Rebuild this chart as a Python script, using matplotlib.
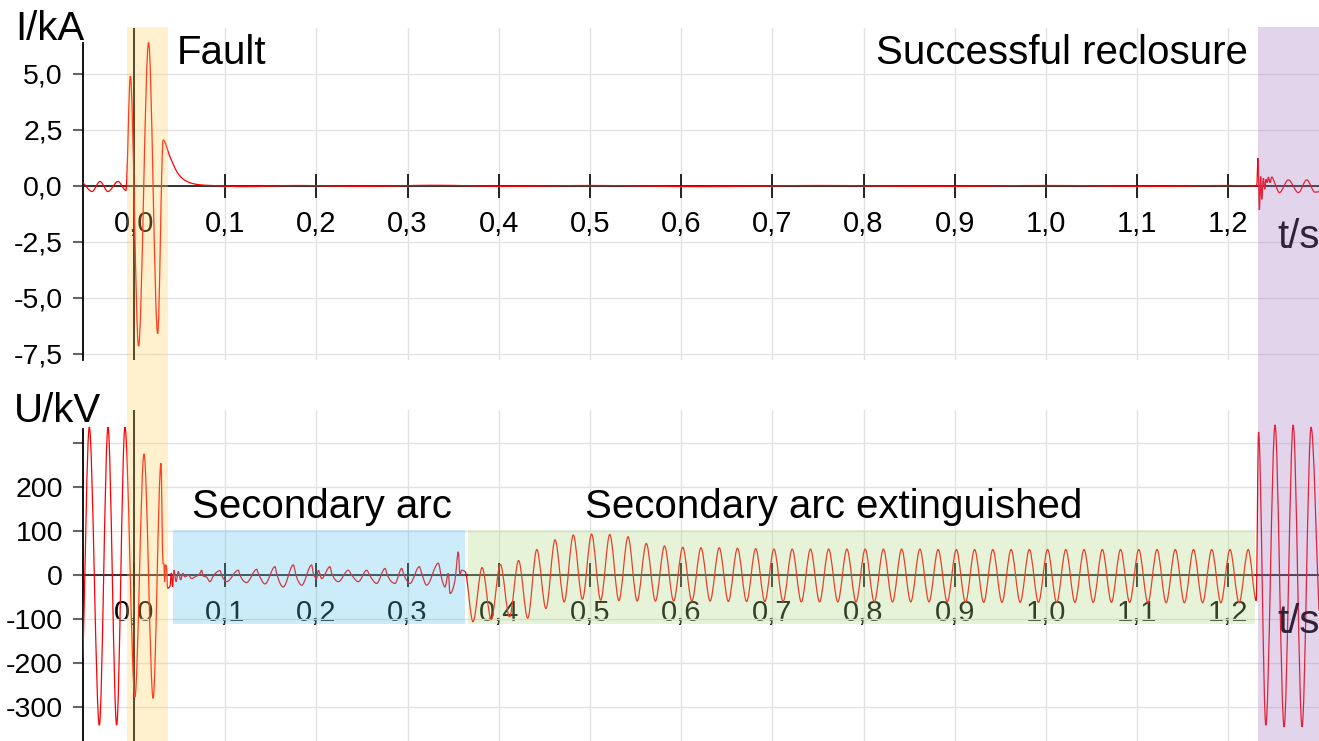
import numpy as np
import matplotlib
matplotlib.use('Agg')
import matplotlib.pyplot as plt
from matplotlib.path import Path
from matplotlib.patches import PathPatch

plt.rcParams['font.family'] = ['Liberation Sans', 'DejaVu Sans']

# --- data -------------------------------------------------------------------
x_ticks = [0.0, 0.1, 0.2, 0.3, 0.4, 0.5, 0.6, 0.7, 0.8, 0.9, 1.0, 1.1, 1.2]
x_labels = ['0,0', '0,1', '0,2', '0,3', '0,4', '0,5', '0,6', '0,7', '0,8', '0,9', '1,0', '1,1', '1,2']

i_ticks = [5.0, 2.5, 0.0, -2.5, -5.0, -7.5]
i_labels = ['5,0', '2,5', '0,0', '-2,5', '-5,0', '-7,5']
u_ticks = [300, 200, 100, 0, -100, -200, -300]
u_labels = ['', '200', '100', '0', '-100', '-200', '-300']

# current (kA): pre-fault, fault and DC decay
i_fault_t = [-0.056, -0.046, -0.0373, -0.0285, -0.0175, -0.0088, -0.004, 0.005, 0.016, 0.026,
             0.032, 0.0395, 0.0471, 0.0581, 0.0724]
i_fault_v = [0.15, -0.25, 0.2, -0.25, 0.2, -0.2, 4.9, -7.15, 6.4, -6.6,
             2.05, 1.3, 0.63, 0.2, 0.05]
# current during dead time (almost zero)
i_dead_t = [0.085, 0.12, 0.18, 0.25, 0.33, 0.41, 0.5, 0.62, 0.75, 0.88, 1.0, 1.12, 1.2, 1.231]
i_dead_v = [0.02, -0.03, 0.02, -0.02, 0.03, -0.02, 0.02, -0.03, 0.02, -0.02, 0.02, -0.02, 0.02, 0.0]
# current after reclosure
i_rc_t = [1.2325, 1.2339, 1.2354, 1.2365, 1.2383, 1.2398, 1.2412, 1.2427, 1.2438, 1.2456,
          1.2475, 1.2511, 1.2559, 1.2657, 1.2767, 1.2858, 1.2950, 1.2993]
i_rc_v = [1.25, -1.07, 0.42, -0.6, 0.35, -0.15, 0.3, 0.15, 0.4, 0.15,
          0.4, 0.1, -0.3, 0.27, -0.3, 0.27, -0.28, -0.25]

# voltage (kV): pre-fault and fault
u_pre_t = [-0.056, -0.049, -0.038, -0.0285, -0.019, -0.0099, 0.001, 0.011, 0.021, 0.0296,
           0.0318, 0.0329, 0.0335, 0.0345, 0.0356, 0.0368, 0.0395, 0.0410]
u_pre_v = [-190, 336, -341, 336, -341, 336, -277, 275, -280, 254,
           27, 25, -16, 23, 20, -30, -25, 5]
# secondary arc
arc_t = [0.0424, 0.0439, 0.0461, 0.0486, 0.0512, 0.0534, 0.0559, 0.0596, 0.0632, 0.0669,
         0.0724, 0.0742, 0.0760, 0.0797, 0.0833, 0.0870, 0.0943, 0.0961, 0.1016, 0.1144,
         0.1162, 0.1235, 0.1345, 0.1363, 0.1437, 0.1546, 0.1564, 0.1637, 0.1747, 0.1776,
         0.1839, 0.1948, 0.1966, 0.2003, 0.2021, 0.2058, 0.2149, 0.2168, 0.2241, 0.2350,
         0.2387, 0.2460, 0.2551, 0.2588, 0.2661, 0.2752, 0.2778, 0.2862, 0.2935, 0.2961,
         0.3026, 0.3129, 0.3154, 0.3209, 0.3337, 0.3374, 0.3410, 0.3447, 0.3465, 0.3520,
         0.3556, 0.3574, 0.3593, 0.3630]
arc_u = [-26, 11, -15, 8, -11, 4, -4, 0, -8, -4,
         4, 11, -2, -5, -15, -2, 10, 0, -15, 11,
         0, -17, 13, 4, -20, 19, 4, -27, 23, 0,
         -23, 23, 4, -8, 11, -8, 19, 4, -15, 11,
         0, -15, 11, -2, -19, 15, 0, -19, 15, 0,
         -19, 19, 4, -23, 27, -8, -27, 4, -42, -11,
         53, 0, 11, 8]
# arc extinguished: extrema every half cycle (50 Hz)
ext_t0 = 0.3717
ext_troughs = [-106, -101, -95, -98, -76, -61, -55, -57, -58, -59,
               -59, -59, -59, -59, -60, -60, -60, -60, -61, -61,
               -61, -61, -61, -61, -61, -61, -61, -62, -62, -62,
               -62, -62, -62, -62, -62, -62, -62, -63, -63, -63,
               -63, -63, -63]
ext_peaks = [17, 24, 33, 58, 80, 91, 93, 92, 87, 72,
             66, 63, 62, 62, 61, 60, 59, 59, 59, 59,
             59, 59, 59, 59, 59, 58, 58, 58, 58, 58,
             58, 58, 58, 58, 58, 58, 58, 58, 58, 58,
             58, 58, 58]
# after reclosure
u_rc_t = [1.2305, 1.2330, 1.2410, 1.2511, 1.2610, 1.2710, 1.2807, 1.2906, 1.2993]
u_rc_v = [-58, 325, -341, 341, -345, 341, -345, 336, -80]

fault_span = (-0.0077, 0.0373)
reclose_span = (1.2325, 1.2993)
arc_box = (0.0428, 0.3629)
ext_box = (0.3662, 1.2292)
box_u = (-111, 102)

# --- assemble series ---------------------------------------------------------
i_t = i_fault_t + i_dead_t + i_rc_t
i_v = i_fault_v + i_dead_v + i_rc_v

n_ext = len(ext_troughs) + len(ext_peaks)
ext_t = ext_t0 + 0.01 * np.arange(n_ext)
ext_u = np.empty(n_ext)
ext_u[0::2] = ext_troughs
ext_u[1::2] = ext_peaks
u_t = np.concatenate([u_pre_t, arc_t, ext_t, u_rc_t])
u_v = np.concatenate([u_pre_v, arc_u, ext_u, u_rc_v])


def smooth_line(ax, x, y, **kw):
    # monotone cubic curve through the points (flat at turning points)
    x = np.asarray(x, float)
    y = np.asarray(y, float)
    h = np.diff(x)
    s = np.diff(y) / h
    m = np.zeros_like(y)
    m[0], m[-1] = s[0], s[-1]
    for i in range(1, len(y) - 1):
        p = (s[i - 1] * h[i] + s[i] * h[i - 1]) / (h[i - 1] + h[i])
        m[i] = (np.sign(s[i - 1]) + np.sign(s[i])) * min(abs(s[i - 1]), abs(s[i]), 0.5 * abs(p))
    verts = [(x[0], y[0])]
    codes = [Path.MOVETO]
    for i in range(len(h)):
        d = h[i] / 3
        verts += [(x[i] + d, y[i] + m[i] * d), (x[i + 1] - d, y[i + 1] - m[i + 1] * d),
                  (x[i + 1], y[i + 1])]
        codes += [Path.CURVE4] * 3
    ax.add_patch(PathPatch(Path(verts, codes), fill=False, **kw))


# --- figure --------------------------------------------------------------
W, H = 1319, 741
fig = plt.figure(figsize=(W / 100, H / 100), dpi=100)
t_min, t_max = -0.0559, 1.2993


def px_box(x0, y0, x1, y1):
    return [x0 / W, 1 - y1 / H, (x1 - x0) / W, (y1 - y0) / H]


ax1 = fig.add_axes(px_box(83, 28, W, 360))
ax2 = fig.add_axes(px_box(83, 410, W, H))


def style(ax, ylim, spine_top, yticks, ylabels):
    ax.set_xlim(t_min, t_max)
    ax.set_ylim(*ylim)
    ax.spines['top'].set_visible(False)
    ax.spines['right'].set_visible(False)
    ax.spines['bottom'].set_position(('data', 0))
    ax.spines['bottom'].set_color('#222222')
    ax.spines['bottom'].set_linewidth(1.3)
    ax.spines['left'].set_bounds(ylim[0], spine_top)
    ax.spines['left'].set_linewidth(1.3)
    ax.set_xticks(x_ticks)
    ax.set_xticklabels(x_labels)
    ax.tick_params(axis='x', direction='inout', length=17, width=1.2,
                   color='black', pad=8.5, labelsize=21)
    ax.set_yticks(yticks)
    ax.set_yticklabels(ylabels)
    ax.tick_params(axis='y', length=7.2, width=1.5, color='#666666',
                   pad=7.2, labelsize=20.5)
    ax.grid(color='#e2e2e2', lw=1)
    ax.set_axisbelow(True)
    ax.axvline(0, color='black', lw=1.3, zorder=2.6)


style(ax1, (-7.77, 7.05), 6.38, i_ticks, i_labels)
style(ax2, (-377, 375), 332, u_ticks, u_labels)

smooth_line(ax1, i_t, i_v, edgecolor='red', lw=0.9, zorder=3)
smooth_line(ax2, u_t, u_v, edgecolor='red', lw=0.9, zorder=3)

# highlighted intervals in the voltage plot
ax2.fill_between(arc_box, box_u[0], box_u[1], color='#55C3E8', alpha=0.3, lw=0, zorder=10)
ax2.fill_between(ext_box, box_u[0], box_u[1], color='#B2DA84', alpha=0.3, lw=0, zorder=10)

big = 29
fig.text(15 / W, 1 - 40 / H, 'I/kA', fontsize=big, va='baseline')
fig.text(14 / W, 1 - 422 / H, 'U/kV', fontsize=big, va='baseline')
ax1.text(0.0471, 5.45, 'Fault', fontsize=big, va='baseline')
ax1.text(1.2215, 5.45, 'Successful reclosure', fontsize=big, va='baseline', ha='right')
ax1.text(1.2533, -2.77, 't/s', fontsize=big, va='baseline')
ax2.text(0.0636, 130, 'Secondary arc', fontsize=big, va='baseline')
ax2.text(0.4945, 130, 'Secondary arc extinguished', fontsize=big, va='baseline')
ax2.text(1.2533, -132, 't/s', fontsize=big, va='baseline')

# fault and reclosure bands over both plots
over = fig.add_axes(px_box(83, 27, W, H), zorder=10)
over.set_axis_off()
over.patch.set_alpha(0)
over.set_xlim(t_min, t_max)
over.axvspan(*fault_span, color='#FFD05F', alpha=0.3, lw=0)
over.axvspan(*reclose_span, color='#9E73C0', alpha=0.3, lw=0)

fig.savefig('out.png', dpi=100)
